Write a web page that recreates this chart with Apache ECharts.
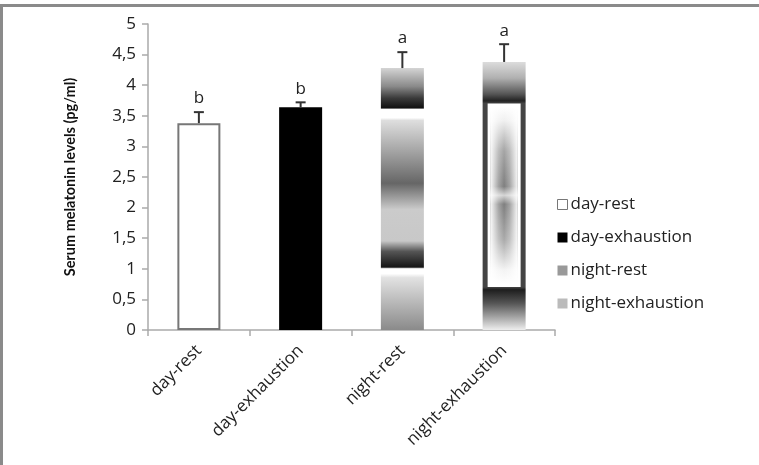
<!DOCTYPE html>
<html>
<head>
<meta charset="utf-8">
<script src="https://cdn.jsdelivr.net/npm/echarts@6/dist/echarts.min.js"></script>
<style>
  html, body { margin: 0; padding: 0; background: #fff; }
  #chart { width: 759px; height: 465px; }
</style>
</head>
<body>
<div id="chart"></div>
<script>
// values
const categories = ['day-rest', 'day-exhaustion', 'night-rest', 'night-exhaustion'];
const means = [3.38, 3.64, 4.28, 4.38];
const errors = [0.18, 0.08, 0.26, 0.29];
const letters = ['b', 'b', 'a', 'a'];
const yTicks = [0, 0.5, 1, 1.5, 2, 2.5, 3, 3.5, 4, 4.5, 5];

const FONT = 'Open Sans';

function vgrad(stops) {
  return {
    type: 'linear', x: 0, y: 0, x2: 0, y2: 1,
    colorStops: stops.map(s => ({ offset: s[0], color: s[1] }))
  };
}

const barStyles = [
  { color: '#fff', borderColor: '#777', borderWidth: 2 },
  { color: '#000' },
  { color: vgrad([
      [0, '#d4d4d4'], [0.07, '#8a8a8a'], [0.115, '#3a3a3a'], [0.152, '#111'],
      [0.158, '#fff'], [0.19, '#fff'], [0.2, '#dedede'], [0.31, '#a8a8a8'],
      [0.44, '#666'], [0.54, '#cbcbcb'], [0.66, '#c8c8c8'], [0.7, '#555'],
      [0.76, '#151515'], [0.766, '#fff'], [0.785, '#fff'], [0.8, '#e2e2e2'], [1, '#8a8a8a']
    ]) },
  { color: vgrad([
      [0, '#dcdcdc'], [0.06, '#b0b0b0'], [0.12, '#555'], [0.145, '#222'],
      [0.155, '#444'], [0.84, '#444'], [0.85, '#1e1e1e'], [0.9, '#555'], [1, '#eee']
    ]) }
];

const legendIcons = [
  { color: '#fff', borderColor: '#777', borderWidth: 1 },
  { color: '#000' },
  { color: '#999' },
  { color: '#bbb' }
];

const barSeries = categories.map((name, i) => ({
  name: name,
  type: 'bar',
  stack: 'all',
  barWidth: 43,
  data: means.map((v, j) => (j === i ? v : null)),
  itemStyle: barStyles[i],
  emphasis: { disabled: true }
}));

const chart = echarts.init(document.getElementById('chart'));

chart.setOption({
  animation: false,
  backgroundColor: '#fff',
  textStyle: { fontFamily: FONT },
  graphic: [
    { type: 'line', shape: { x1: 0, y1: 5.5, x2: 759, y2: 5.5 },
      style: { stroke: '#8a8a8a', lineWidth: 3 }, silent: true },
    { type: 'line', shape: { x1: 1.5, y1: 5, x2: 1.5, y2: 465 },
      style: { stroke: '#8a8a8a', lineWidth: 3 }, silent: true }
  ],
  grid: { left: 148, top: 24, right: 204, bottom: 135 },
  legend: {
    orient: 'vertical',
    left: 552,
    top: 190,
    itemWidth: 10,
    itemHeight: 10,
    itemGap: 14,
    icon: 'rect',
    textStyle: { fontFamily: FONT, fontSize: 17, color: '#222', lineHeight: 19, padding: [0, 0, 0, -2] },
    data: categories.map((c, i) => ({ name: c, itemStyle: legendIcons[i] })),
    selectedMode: false
  },
  xAxis: {
    type: 'category',
    data: categories,
    axisLine: { lineStyle: { color: '#aaa', width: 1.5 } },
    axisTick: { show: true, length: 6, lineStyle: { color: '#aaa', width: 1.5 } },
    axisLabel: {
      rotate: 45, margin: 18, interval: 0,
      fontFamily: FONT, fontSize: 17, color: '#222'
    }
  },
  yAxis: {
    type: 'value',
    min: 0,
    max: 5,
    interval: 0.5,
    name: 'Serum melatonin levels (pg/ml)',
    nameLocation: 'middle',
    nameGap: 70,
    nameTextStyle: { fontFamily: 'Lato', fontWeight: 'bold', fontSize: 14.5, color: '#111' },
    splitLine: { show: false },
    axisLine: { show: true, lineStyle: { color: '#aaa', width: 1.5 } },
    axisTick: { show: true, length: 6, lineStyle: { color: '#aaa', width: 1.5 } },
    axisLabel: {
      margin: 12, fontFamily: FONT, fontSize: 17, color: '#222',
      formatter: v => (yTicks.indexOf(v) >= 0 ? String(v).replace('.', ',') : '')
    }
  },
  series: barSeries.concat([
    {
      // inner frame of the night-exhaustion bar
      type: 'custom',
      name: 'inner',
      silent: true,
      z: 3,
      data: [[3, means[3]]],
      renderItem: function (params, api) {
        const top = api.coord([api.value(0), api.value(1)]);
        const base = api.coord([api.value(0), 0]);
        const h = base[1] - top[1];
        const x = top[0] - 21.5 + 5;
        const w = 43 - 10;
        const y = top[1] + h * 0.155;
        const ih = h * 0.685;
        return {
          type: 'group',
          children: [
            { type: 'rect', shape: { x: x, y: y, width: w, height: ih },
              style: { fill: '#fff' } },
            { type: 'rect', shape: { x: x + 3, y: y + 3, width: w - 6, height: ih - 6 },
              style: { fill: vgrad([[0, '#fff'], [0.08, '#eee'], [0.25, '#9a9a9a'],
                [0.45, '#707070'], [0.5, '#cfcfcf'], [0.55, '#707070'], [0.75, '#a0a0a0'],
                [0.92, '#f2f2f2'], [1, '#fff']]) } },
            { type: 'rect', shape: { x: x + 3, y: y + 3, width: w - 6, height: ih - 6 },
              style: { fill: { type: 'linear', x: 0, y: 0, x2: 1, y2: 0, colorStops: [
                { offset: 0, color: 'rgba(255,255,255,0.95)' }, { offset: 0.3, color: 'rgba(255,255,255,0.35)' },
                { offset: 0.5, color: 'rgba(255,255,255,0.1)' }, { offset: 0.7, color: 'rgba(255,255,255,0.35)' },
                { offset: 1, color: 'rgba(255,255,255,0.95)' }] } } }
          ]
        };
      }
    },
    {
      // error bars with significance letters
      type: 'custom',
      name: 'error',
      silent: true,
      z: 4,
      data: means.map((m, i) => [i, m, m + errors[i]]),
      renderItem: function (params, api) {
        const p0 = api.coord([api.value(0), api.value(1)]);
        const p1 = api.coord([api.value(0), api.value(2)]);
        const style = { stroke: '#333', lineWidth: 2 };
        return {
          type: 'group',
          children: [
            { type: 'line', shape: { x1: p0[0], y1: p0[1], x2: p1[0], y2: p1[1] }, style: style },
            { type: 'line', shape: { x1: p1[0] - 5, y1: p1[1], x2: p1[0] + 5, y2: p1[1] }, style: style },
            { type: 'text', x: p1[0], y: p1[1] - 5,
              style: { text: letters[params.dataIndex], fontFamily: FONT, fontSize: 17, fill: '#222',
                align: 'center', verticalAlign: 'bottom' } }
          ]
        };
      }
    }
  ])
});
</script>
</body>
</html>
